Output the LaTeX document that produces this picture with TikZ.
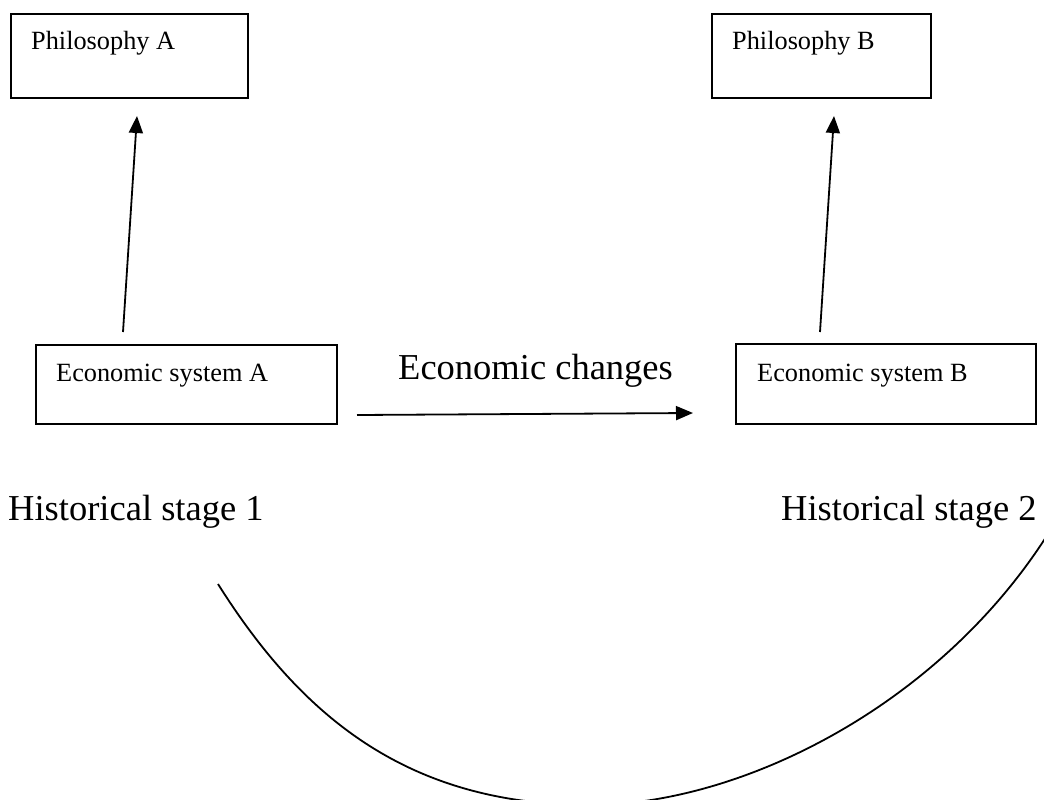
\documentclass[tikz,border=0pt]{standalone}
\usepackage{fontspec}
\setmainfont{Liberation Serif}
\usetikzlibrary{arrows.meta}
\begin{document}
\begin{tikzpicture}[x=1pt,y=-1pt,
  box/.style={draw,line width=2.2pt,rectangle,inner sep=0pt},
  small/.style={anchor=base west,inner sep=0pt,font=\fontsize{26.3}{30}\selectfont},
  big/.style={anchor=base west,inner sep=0pt,font=\fontsize{36.5}{42}\selectfont},
  conn/.style={line width=1.8pt,-{Triangle[length=17pt,width=14pt]}},
  curve/.style={line width=1.8pt}]
\useasboundingbox (0,0) rectangle (1044,800);
% boxes
\node[box,minimum width=237pt,minimum height=84pt] (philA) at (129.5,56) {};
\node[box,minimum width=219pt,minimum height=84pt] (philB) at (821.5,56) {};
\node[box,minimum width=301pt,minimum height=79pt] (ecoA) at (186.5,384.5) {};
\node[box,minimum width=300pt,minimum height=80pt] (ecoB) at (886,384) {};
% labels
\node[small] (tphilA) at (31,49) {Philosophy A};
\node[small] (tphilB) at (732,49) {Philosophy B};
\node[small] (tecoA) at (56,381) {Economic system A};
\node[small] (tecoB) at (757,381) {Economic system B};
\node[big] (tchg) at (398,379) {Economic changes};
\node[big] (hs1) at (8,520) {Historical stage 1};
\node[big] (hs2) at (781,520) {Historical stage 2};
% arrow end points
\coordinate (a1s) at (123,332);
\coordinate (a1e) at (137,116);
\coordinate (a2s) at (820,332);
\coordinate (a2e) at (834,116);
\coordinate (hs) at (357,415);
\coordinate (he) at (693,413);
\draw[conn] (a1s) -- (a1e);
\draw[conn] (a2s) -- (a2e);
\draw[conn] (hs) -- (he);
% arc
\coordinate (arcL) at (218,584);
\coordinate (arcM) at (590,805);
\coordinate (arcR) at (1048,534);
\begin{scope}
\clip (0,0) rectangle (1044,800);
\draw[curve] (arcL) .. controls (303,719) and (410,805) .. (arcM)
  .. controls (740,805) and (938,707) .. (arcR);
\end{scope}
\end{tikzpicture}
\end{document}
